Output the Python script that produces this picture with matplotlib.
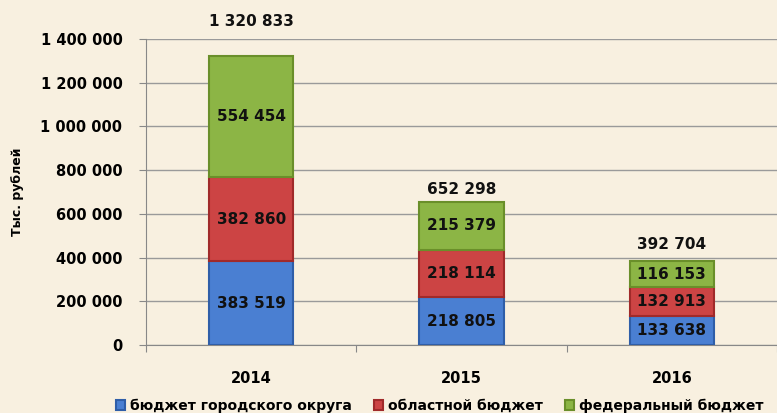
import matplotlib.pyplot as plt
import numpy as np

# Data
years = ['2014', '2015', '2016']
city_budget = [383519, 218805, 133638]
regional_budget = [382860, 218114, 132913]
federal_budget = [554454, 215379, 116153]
totals = [1320833, 652298, 392704]
series_names = ['бюджет городского округа', 'областной бюджет', 'федеральный бюджет']

colors = ['#4a7fd2', '#cc4444', '#8cb545']
edges = ['#2f5ea8', '#a02a2a', '#6a8f2a']

def fmt(v):
    return f'{v:,}'.replace(',', ' ')

plt.rcParams['font.family'] = ['DejaVu Sans']
plt.rcParams['font.weight'] = 'bold'

fig = plt.figure(figsize=(7.77, 4.13), dpi=100)
fig.patch.set_facecolor('#f8f0e0')
ax = fig.add_axes([0.188, 0.1646, 0.812, 0.741])
ax.set_facecolor('#f8f0e0')

x = np.arange(len(years))
width = 0.4
bottom = np.zeros(len(years))
for vals, name, c, e in zip([city_budget, regional_budget, federal_budget], series_names, colors, edges):
    bars = ax.bar(x, vals, width, bottom=bottom, color=c, edgecolor=e, linewidth=1.5, label=name, zorder=3)
    for b, v in zip(bars, vals):
        ax.text(b.get_x() + b.get_width() / 2, b.get_y() + b.get_height() / 2, fmt(v),
                ha='center', va='center', fontsize=11, fontweight='bold', color='#111111', zorder=4)
    bottom += np.array(vals)

# totals above the bars
offsets = [20, 4, 5]
for xi, t, off in zip(x, totals, offsets):
    ax.annotate(fmt(t), (xi, t), xytext=(0, off), textcoords='offset points',
                ha='center', va='bottom', fontsize=11, fontweight='bold', color='#111111',
                annotation_clip=False)

ax.set_xlim(-0.5, 2.5)
ax.set_ylim(0, 1400000)
ax.set_yticks(np.arange(0, 1400001, 200000))
ax.set_yticklabels([fmt(v) for v in range(0, 1400001, 200000)], fontsize=10.5, fontweight='bold')
ax.set_xticks([-0.5, 0.5, 1.5, 2.5])
ax.set_xticklabels([])
ax.set_xticks(x, minor=True)
ax.set_xticklabels(years, minor=True, fontsize=10.5, fontweight='bold')
ax.tick_params(axis='x', which='minor', length=0, pad=19)
ax.tick_params(axis='x', which='major', length=5, color='#888888')
ax.tick_params(axis='y', length=5, color='#888888', pad=12)
ax.grid(axis='y', color='#9a9a9a', linewidth=1, zorder=0)
for s in ['top', 'right']:
    ax.spines[s].set_visible(False)
ax.spines['left'].set_color('#888888')
ax.spines['bottom'].set_color('#888888')
ax.set_ylabel('Тыс. рублей', fontsize=9, fontweight='bold')
ax.yaxis.set_label_coords(-0.193, 0.5)

ax.legend(loc='lower center', bbox_to_anchor=(0.465, -0.24), ncol=3, frameon=False,
          fontsize=10, handlelength=0.7, handleheight=0.7, handletextpad=0.3, columnspacing=1.6,
          borderaxespad=0)

plt.savefig('out.png', dpi=100, facecolor=fig.get_facecolor())
